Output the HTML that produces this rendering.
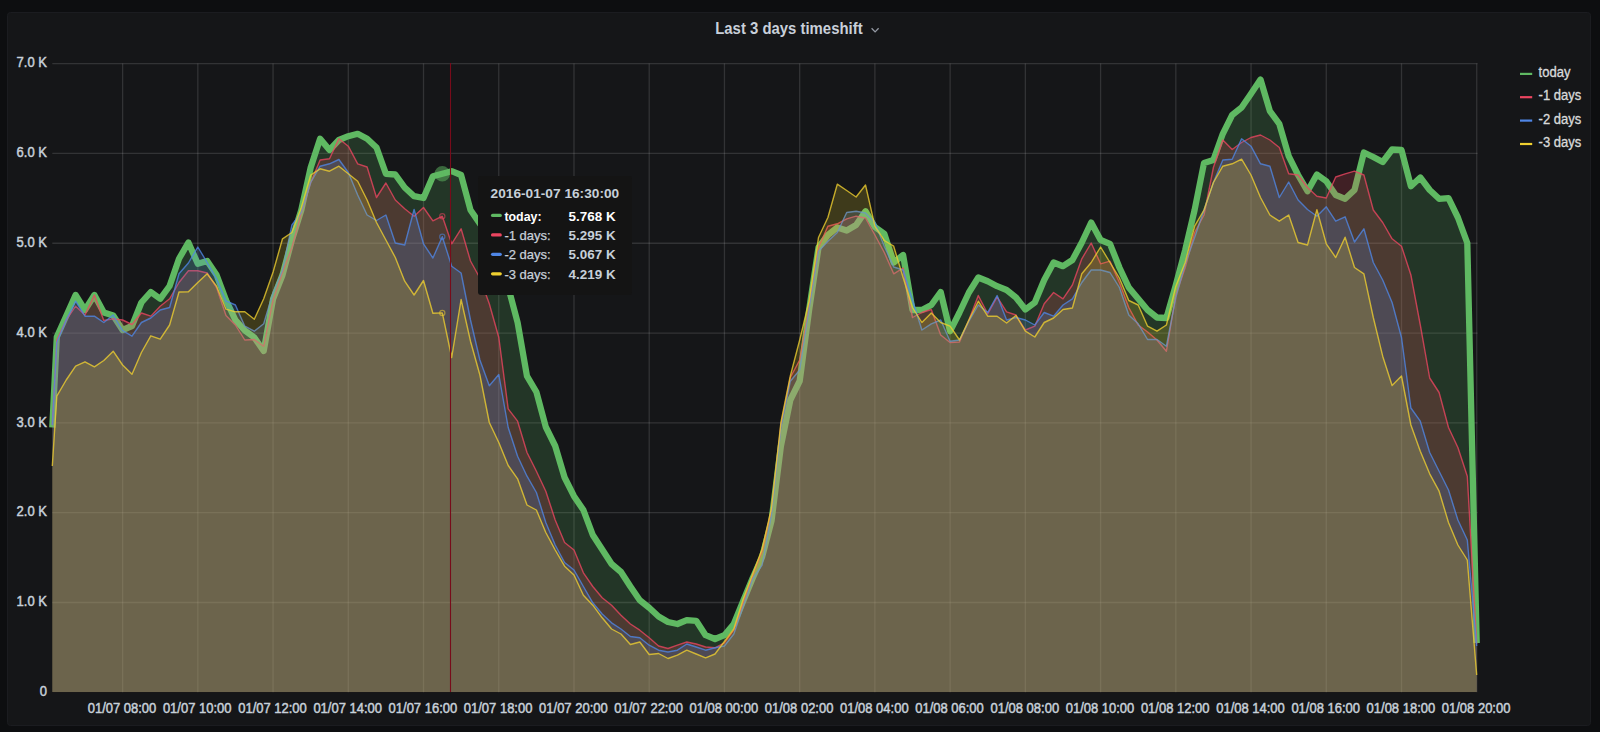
<!DOCTYPE html>
<html lang="en"><head><meta charset="utf-8"><title>Last 3 days timeshift</title>
<style>
html,body{margin:0;padding:0;background:#0d0e10;}
body{width:1600px;height:732px;overflow:hidden;position:relative;font-family:"Liberation Sans",sans-serif;}
svg{position:absolute;left:0;top:0;display:block;}
text{font-family:"Liberation Sans",sans-serif;}
.ax{font-size:13px;fill:#c7d0d9;stroke:#c7d0d9;stroke-width:0.45px;}
.lg{font-size:13.1px;fill:#d8d9da;stroke:#d8d9da;stroke-width:0.3px;}
.tt{font-size:13px;fill:#c7d0d9;}
.ttn{stroke:#c7d0d9;stroke-width:0.25px;}
.ttb{font-size:13px;fill:#ffffff;font-weight:bold;}
</style></head><body>
<svg width="1600" height="732" viewBox="0 0 1600 732">
<rect x="0" y="0" width="1600" height="732" fill="#0d0e10"/>
<rect x="7.5" y="12.5" width="1583" height="713" rx="3" ry="3" fill="#151618" stroke="#1b1c20" stroke-width="1"/>
<text transform="translate(715.2,34.1) scale(0.988,1.08)" x="0" y="0" font-size="15.1" font-weight="bold" fill="#c9d0da">Last 3 days timeshift</text>
<path d="M871.6 28.3 L875.1 31.9 L878.6 28.3" fill="none" stroke="#9499a3" stroke-width="1.3"/>
<g stroke="rgba(255,255,255,0.125)" stroke-width="1.3">
<line x1="122.60" y1="63.6" x2="122.60" y2="692.3"/>
<line x1="197.83" y1="63.6" x2="197.83" y2="692.3"/>
<line x1="273.06" y1="63.6" x2="273.06" y2="692.3"/>
<line x1="348.29" y1="63.6" x2="348.29" y2="692.3"/>
<line x1="423.52" y1="63.6" x2="423.52" y2="692.3"/>
<line x1="498.75" y1="63.6" x2="498.75" y2="692.3"/>
<line x1="573.98" y1="63.6" x2="573.98" y2="692.3"/>
<line x1="649.21" y1="63.6" x2="649.21" y2="692.3"/>
<line x1="724.44" y1="63.6" x2="724.44" y2="692.3"/>
<line x1="799.67" y1="63.6" x2="799.67" y2="692.3"/>
<line x1="874.90" y1="63.6" x2="874.90" y2="692.3"/>
<line x1="950.13" y1="63.6" x2="950.13" y2="692.3"/>
<line x1="1025.36" y1="63.6" x2="1025.36" y2="692.3"/>
<line x1="1100.59" y1="63.6" x2="1100.59" y2="692.3"/>
<line x1="1175.82" y1="63.6" x2="1175.82" y2="692.3"/>
<line x1="1251.05" y1="63.6" x2="1251.05" y2="692.3"/>
<line x1="1326.28" y1="63.6" x2="1326.28" y2="692.3"/>
<line x1="1401.51" y1="63.6" x2="1401.51" y2="692.3"/>
<line x1="1476.74" y1="63.6" x2="1476.74" y2="692.3"/>
<line x1="52.3" y1="602.49" x2="1477.6" y2="602.49"/>
<line x1="52.3" y1="512.67" x2="1477.6" y2="512.67"/>
<line x1="52.3" y1="422.86" x2="1477.6" y2="422.86"/>
<line x1="52.3" y1="333.04" x2="1477.6" y2="333.04"/>
<line x1="52.3" y1="243.23" x2="1477.6" y2="243.23"/>
<line x1="52.3" y1="153.41" x2="1477.6" y2="153.41"/>
<line x1="52.3" y1="63.60" x2="1477.6" y2="63.60"/>
</g>
<defs><clipPath id="pc"><rect x="48.8" y="59.6" width="1431.7" height="632.7"/></clipPath></defs>
<g clip-path="url(#pc)" stroke-linejoin="round" stroke-linecap="butt">
<polygon points="52.3,427.5 56.8,337.0 66.2,316.0 75.6,295.0 85.0,310.0 94.4,295.0 103.8,312.5 113.2,315.5 122.6,330.0 132.0,326.0 141.4,302.5 150.8,292.0 160.2,298.8 169.6,286.0 179.0,258.8 188.4,242.5 197.8,263.8 207.2,261.0 216.6,275.0 226.0,300.0 235.4,320.0 244.8,330.5 254.3,337.5 263.7,351.0 273.1,298.8 282.5,275.0 291.9,240.0 301.3,210.0 310.7,167.5 320.1,138.8 329.5,150.0 338.9,140.0 348.3,136.2 357.7,133.8 367.1,138.8 376.5,147.5 385.9,173.8 395.3,174.5 404.7,187.5 414.1,196.2 423.5,198.0 432.9,176.2 442.3,173.8 451.7,171.2 461.1,175.0 470.5,210.0 479.9,223.8 489.3,237.0 498.8,255.0 508.2,287.0 517.6,322.5 527.0,376.2 536.4,392.0 545.8,427.0 555.2,446.0 564.6,477.5 574.0,496.2 583.4,510.0 592.8,535.0 602.2,549.5 611.6,564.0 621.0,572.0 630.4,586.5 639.8,600.2 649.2,607.8 658.6,616.5 668.0,622.0 677.4,624.0 686.8,620.2 696.2,620.8 705.6,635.2 715.0,639.0 724.4,635.2 733.8,624.0 743.2,601.0 752.7,578.0 762.1,557.0 771.5,521.0 780.9,446.0 790.3,400.0 799.7,381.0 809.1,310.0 818.5,247.5 827.9,235.0 837.3,227.5 846.7,230.5 856.1,225.0 865.5,211.2 874.9,227.0 884.3,233.8 893.7,262.5 903.1,255.0 912.5,310.0 921.9,310.0 931.3,305.0 940.7,292.0 950.1,331.2 959.5,312.5 968.9,292.5 978.3,277.5 987.7,281.2 997.1,286.2 1006.6,290.0 1016.0,297.5 1025.4,309.5 1034.8,302.5 1044.2,280.0 1053.6,262.5 1063.0,266.2 1072.4,260.0 1081.8,242.5 1091.2,222.5 1100.6,240.0 1110.0,243.8 1119.4,267.5 1128.8,287.5 1138.2,298.8 1147.6,310.0 1157.0,317.5 1166.4,318.0 1175.8,285.0 1185.2,250.0 1194.6,210.0 1204.0,163.0 1213.4,160.0 1222.8,133.8 1232.2,115.0 1241.6,107.5 1251.0,93.8 1260.5,79.5 1269.9,111.2 1279.3,123.8 1288.7,156.2 1298.1,175.0 1307.5,191.2 1316.9,174.5 1326.3,181.2 1335.7,195.0 1345.1,198.8 1354.5,190.0 1363.9,152.5 1373.3,157.0 1382.7,162.0 1392.1,149.5 1401.5,150.0 1410.9,186.2 1420.3,177.5 1429.7,190.0 1439.1,198.8 1448.5,198.2 1457.9,217.5 1467.3,243.0 1476.7,643.0 1476.7,692.3 52.3,692.3" fill="#5fb962" fill-opacity="0.20" stroke="none"/>
<polyline points="52.3,427.5 56.8,337.0 66.2,316.0 75.6,295.0 85.0,310.0 94.4,295.0 103.8,312.5 113.2,315.5 122.6,330.0 132.0,326.0 141.4,302.5 150.8,292.0 160.2,298.8 169.6,286.0 179.0,258.8 188.4,242.5 197.8,263.8 207.2,261.0 216.6,275.0 226.0,300.0 235.4,320.0 244.8,330.5 254.3,337.5 263.7,351.0 273.1,298.8 282.5,275.0 291.9,240.0 301.3,210.0 310.7,167.5 320.1,138.8 329.5,150.0 338.9,140.0 348.3,136.2 357.7,133.8 367.1,138.8 376.5,147.5 385.9,173.8 395.3,174.5 404.7,187.5 414.1,196.2 423.5,198.0 432.9,176.2 442.3,173.8 451.7,171.2 461.1,175.0 470.5,210.0 479.9,223.8 489.3,237.0 498.8,255.0 508.2,287.0 517.6,322.5 527.0,376.2 536.4,392.0 545.8,427.0 555.2,446.0 564.6,477.5 574.0,496.2 583.4,510.0 592.8,535.0 602.2,549.5 611.6,564.0 621.0,572.0 630.4,586.5 639.8,600.2 649.2,607.8 658.6,616.5 668.0,622.0 677.4,624.0 686.8,620.2 696.2,620.8 705.6,635.2 715.0,639.0 724.4,635.2 733.8,624.0 743.2,601.0 752.7,578.0 762.1,557.0 771.5,521.0 780.9,446.0 790.3,400.0 799.7,381.0 809.1,310.0 818.5,247.5 827.9,235.0 837.3,227.5 846.7,230.5 856.1,225.0 865.5,211.2 874.9,227.0 884.3,233.8 893.7,262.5 903.1,255.0 912.5,310.0 921.9,310.0 931.3,305.0 940.7,292.0 950.1,331.2 959.5,312.5 968.9,292.5 978.3,277.5 987.7,281.2 997.1,286.2 1006.6,290.0 1016.0,297.5 1025.4,309.5 1034.8,302.5 1044.2,280.0 1053.6,262.5 1063.0,266.2 1072.4,260.0 1081.8,242.5 1091.2,222.5 1100.6,240.0 1110.0,243.8 1119.4,267.5 1128.8,287.5 1138.2,298.8 1147.6,310.0 1157.0,317.5 1166.4,318.0 1175.8,285.0 1185.2,250.0 1194.6,210.0 1204.0,163.0 1213.4,160.0 1222.8,133.8 1232.2,115.0 1241.6,107.5 1251.0,93.8 1260.5,79.5 1269.9,111.2 1279.3,123.8 1288.7,156.2 1298.1,175.0 1307.5,191.2 1316.9,174.5 1326.3,181.2 1335.7,195.0 1345.1,198.8 1354.5,190.0 1363.9,152.5 1373.3,157.0 1382.7,162.0 1392.1,149.5 1401.5,150.0 1410.9,186.2 1420.3,177.5 1429.7,190.0 1439.1,198.8 1448.5,198.2 1457.9,217.5 1467.3,243.0 1476.7,643.0" fill="none" stroke="#5fb962" stroke-width="6.3" stroke-opacity="1"/>
<polygon points="52.3,425.0 56.8,340.0 66.2,320.0 75.6,306.2 85.0,315.0 94.4,295.0 103.8,320.5 113.2,318.8 122.6,320.0 132.0,324.5 141.4,313.0 150.8,316.2 160.2,306.2 169.6,298.8 179.0,282.5 188.4,270.8 197.8,270.8 207.2,273.0 216.6,287.5 226.0,315.5 235.4,325.0 244.8,340.0 254.3,339.5 263.7,346.2 273.1,300.0 282.5,272.5 291.9,247.5 301.3,213.0 310.7,182.5 320.1,160.0 329.5,158.8 338.9,138.8 348.3,146.2 357.7,163.8 367.1,167.0 376.5,197.5 385.9,183.0 395.3,200.0 404.7,208.8 414.1,216.2 423.5,207.5 432.9,220.8 442.3,216.2 451.7,243.8 461.1,228.8 470.5,261.0 479.9,278.0 489.3,303.8 498.8,337.5 508.2,408.8 517.6,421.2 527.0,452.5 536.4,471.2 545.8,491.2 555.2,520.0 564.6,542.5 574.0,550.0 583.4,572.8 592.8,586.5 602.2,597.8 611.6,605.2 621.0,615.2 630.4,624.0 639.8,630.2 649.2,637.8 658.6,646.0 668.0,648.5 677.4,645.2 686.8,642.0 696.2,644.0 705.6,647.0 715.0,647.8 724.4,642.8 733.8,630.2 743.2,602.8 752.7,575.2 762.1,551.5 771.5,510.0 780.9,425.0 790.3,377.5 799.7,360.0 809.1,306.0 818.5,247.5 827.9,226.2 837.3,223.8 846.7,218.8 856.1,216.2 865.5,218.0 874.9,235.0 884.3,252.5 893.7,273.8 903.1,268.0 912.5,317.5 921.9,312.5 931.3,309.5 940.7,335.0 950.1,342.5 959.5,342.0 968.9,320.0 978.3,295.5 987.7,313.8 997.1,297.0 1006.6,311.8 1016.0,315.0 1025.4,330.0 1034.8,326.2 1044.2,303.8 1053.6,292.5 1063.0,298.8 1072.4,285.0 1081.8,258.8 1091.2,243.0 1100.6,263.8 1110.0,261.2 1119.4,282.5 1128.8,307.5 1138.2,325.0 1147.6,332.0 1157.0,340.0 1166.4,351.2 1175.8,295.0 1185.2,267.5 1194.6,232.5 1204.0,215.0 1213.4,167.5 1222.8,140.0 1232.2,149.5 1241.6,142.5 1251.0,137.5 1260.5,135.0 1269.9,140.0 1279.3,147.5 1288.7,173.8 1298.1,175.0 1307.5,187.5 1316.9,196.2 1326.3,198.0 1335.7,177.0 1345.1,173.8 1354.5,171.2 1363.9,175.0 1373.3,210.0 1382.7,222.5 1392.1,238.8 1401.5,246.2 1410.9,275.0 1420.3,325.0 1429.7,378.0 1439.1,392.5 1448.5,427.5 1457.9,447.5 1467.3,476.2 1476.7,644.0 1476.7,692.3 52.3,692.3" fill="#F2495C" fill-opacity="0.20" stroke="none"/>
<polyline points="52.3,425.0 56.8,340.0 66.2,320.0 75.6,306.2 85.0,315.0 94.4,295.0 103.8,320.5 113.2,318.8 122.6,320.0 132.0,324.5 141.4,313.0 150.8,316.2 160.2,306.2 169.6,298.8 179.0,282.5 188.4,270.8 197.8,270.8 207.2,273.0 216.6,287.5 226.0,315.5 235.4,325.0 244.8,340.0 254.3,339.5 263.7,346.2 273.1,300.0 282.5,272.5 291.9,247.5 301.3,213.0 310.7,182.5 320.1,160.0 329.5,158.8 338.9,138.8 348.3,146.2 357.7,163.8 367.1,167.0 376.5,197.5 385.9,183.0 395.3,200.0 404.7,208.8 414.1,216.2 423.5,207.5 432.9,220.8 442.3,216.2 451.7,243.8 461.1,228.8 470.5,261.0 479.9,278.0 489.3,303.8 498.8,337.5 508.2,408.8 517.6,421.2 527.0,452.5 536.4,471.2 545.8,491.2 555.2,520.0 564.6,542.5 574.0,550.0 583.4,572.8 592.8,586.5 602.2,597.8 611.6,605.2 621.0,615.2 630.4,624.0 639.8,630.2 649.2,637.8 658.6,646.0 668.0,648.5 677.4,645.2 686.8,642.0 696.2,644.0 705.6,647.0 715.0,647.8 724.4,642.8 733.8,630.2 743.2,602.8 752.7,575.2 762.1,551.5 771.5,510.0 780.9,425.0 790.3,377.5 799.7,360.0 809.1,306.0 818.5,247.5 827.9,226.2 837.3,223.8 846.7,218.8 856.1,216.2 865.5,218.0 874.9,235.0 884.3,252.5 893.7,273.8 903.1,268.0 912.5,317.5 921.9,312.5 931.3,309.5 940.7,335.0 950.1,342.5 959.5,342.0 968.9,320.0 978.3,295.5 987.7,313.8 997.1,297.0 1006.6,311.8 1016.0,315.0 1025.4,330.0 1034.8,326.2 1044.2,303.8 1053.6,292.5 1063.0,298.8 1072.4,285.0 1081.8,258.8 1091.2,243.0 1100.6,263.8 1110.0,261.2 1119.4,282.5 1128.8,307.5 1138.2,325.0 1147.6,332.0 1157.0,340.0 1166.4,351.2 1175.8,295.0 1185.2,267.5 1194.6,232.5 1204.0,215.0 1213.4,167.5 1222.8,140.0 1232.2,149.5 1241.6,142.5 1251.0,137.5 1260.5,135.0 1269.9,140.0 1279.3,147.5 1288.7,173.8 1298.1,175.0 1307.5,187.5 1316.9,196.2 1326.3,198.0 1335.7,177.0 1345.1,173.8 1354.5,171.2 1363.9,175.0 1373.3,210.0 1382.7,222.5 1392.1,238.8 1401.5,246.2 1410.9,275.0 1420.3,325.0 1429.7,378.0 1439.1,392.5 1448.5,427.5 1457.9,447.5 1467.3,476.2 1476.7,644.0" fill="none" stroke="#ec4560" stroke-width="1.4" stroke-opacity="0.78"/>
<polygon points="52.3,425.0 56.8,342.5 66.2,320.0 75.6,301.2 85.0,316.2 94.4,316.2 103.8,322.5 113.2,315.0 122.6,330.5 132.0,336.2 141.4,322.5 150.8,318.0 160.2,310.0 169.6,307.5 179.0,273.8 188.4,263.0 197.8,247.0 207.2,262.5 216.6,278.8 226.0,300.8 235.4,305.0 244.8,326.2 254.3,331.2 263.7,323.8 273.1,292.5 282.5,270.0 291.9,225.0 301.3,212.5 310.7,182.5 320.1,166.2 329.5,163.8 338.9,159.5 348.3,172.5 357.7,195.0 367.1,215.0 376.5,220.5 385.9,215.0 395.3,243.0 404.7,245.0 414.1,209.5 423.5,243.8 432.9,258.0 442.3,236.7 451.7,266.2 461.1,273.0 470.5,320.0 479.9,360.0 489.3,385.8 498.8,374.5 508.2,427.5 517.6,456.2 527.0,476.2 536.4,492.5 545.8,522.5 555.2,545.0 564.6,562.5 574.0,570.0 583.4,586.5 592.8,602.8 602.2,614.0 611.6,622.8 621.0,629.0 630.4,636.5 639.8,637.8 649.2,645.2 658.6,650.2 668.0,652.0 677.4,650.2 686.8,644.0 696.2,647.0 705.6,650.2 715.0,647.8 724.4,646.0 733.8,634.0 743.2,606.5 752.7,579.0 762.1,565.2 771.5,515.0 780.9,428.0 790.3,381.2 799.7,370.0 809.1,309.0 818.5,251.2 827.9,241.2 837.3,232.5 846.7,212.5 856.1,211.2 865.5,213.0 874.9,222.5 884.3,246.2 893.7,267.0 903.1,270.0 912.5,300.0 921.9,330.0 931.3,323.8 940.7,320.0 950.1,341.2 959.5,340.0 968.9,321.2 978.3,305.0 987.7,312.5 997.1,295.5 1006.6,320.0 1016.0,317.5 1025.4,320.0 1034.8,325.0 1044.2,312.5 1053.6,316.2 1063.0,305.0 1072.4,298.8 1081.8,282.5 1091.2,270.0 1100.6,270.0 1110.0,272.5 1119.4,287.5 1128.8,315.0 1138.2,323.8 1147.6,339.5 1157.0,339.5 1166.4,346.2 1175.8,297.5 1185.2,263.8 1194.6,237.5 1204.0,210.0 1213.4,182.5 1222.8,160.0 1232.2,159.2 1241.6,138.8 1251.0,146.2 1260.5,163.8 1269.9,166.2 1279.3,197.5 1288.7,182.0 1298.1,200.0 1307.5,209.5 1316.9,216.2 1326.3,206.8 1335.7,221.2 1345.1,216.8 1354.5,242.0 1363.9,228.8 1373.3,262.5 1382.7,280.0 1392.1,302.5 1401.5,337.5 1410.9,408.0 1420.3,421.2 1429.7,452.5 1439.1,471.2 1448.5,490.0 1457.9,520.0 1467.3,540.0 1476.7,646.0 1476.7,692.3 52.3,692.3" fill="#5794F2" fill-opacity="0.18" stroke="none"/>
<polyline points="52.3,425.0 56.8,342.5 66.2,320.0 75.6,301.2 85.0,316.2 94.4,316.2 103.8,322.5 113.2,315.0 122.6,330.5 132.0,336.2 141.4,322.5 150.8,318.0 160.2,310.0 169.6,307.5 179.0,273.8 188.4,263.0 197.8,247.0 207.2,262.5 216.6,278.8 226.0,300.8 235.4,305.0 244.8,326.2 254.3,331.2 263.7,323.8 273.1,292.5 282.5,270.0 291.9,225.0 301.3,212.5 310.7,182.5 320.1,166.2 329.5,163.8 338.9,159.5 348.3,172.5 357.7,195.0 367.1,215.0 376.5,220.5 385.9,215.0 395.3,243.0 404.7,245.0 414.1,209.5 423.5,243.8 432.9,258.0 442.3,236.7 451.7,266.2 461.1,273.0 470.5,320.0 479.9,360.0 489.3,385.8 498.8,374.5 508.2,427.5 517.6,456.2 527.0,476.2 536.4,492.5 545.8,522.5 555.2,545.0 564.6,562.5 574.0,570.0 583.4,586.5 592.8,602.8 602.2,614.0 611.6,622.8 621.0,629.0 630.4,636.5 639.8,637.8 649.2,645.2 658.6,650.2 668.0,652.0 677.4,650.2 686.8,644.0 696.2,647.0 705.6,650.2 715.0,647.8 724.4,646.0 733.8,634.0 743.2,606.5 752.7,579.0 762.1,565.2 771.5,515.0 780.9,428.0 790.3,381.2 799.7,370.0 809.1,309.0 818.5,251.2 827.9,241.2 837.3,232.5 846.7,212.5 856.1,211.2 865.5,213.0 874.9,222.5 884.3,246.2 893.7,267.0 903.1,270.0 912.5,300.0 921.9,330.0 931.3,323.8 940.7,320.0 950.1,341.2 959.5,340.0 968.9,321.2 978.3,305.0 987.7,312.5 997.1,295.5 1006.6,320.0 1016.0,317.5 1025.4,320.0 1034.8,325.0 1044.2,312.5 1053.6,316.2 1063.0,305.0 1072.4,298.8 1081.8,282.5 1091.2,270.0 1100.6,270.0 1110.0,272.5 1119.4,287.5 1128.8,315.0 1138.2,323.8 1147.6,339.5 1157.0,339.5 1166.4,346.2 1175.8,297.5 1185.2,263.8 1194.6,237.5 1204.0,210.0 1213.4,182.5 1222.8,160.0 1232.2,159.2 1241.6,138.8 1251.0,146.2 1260.5,163.8 1269.9,166.2 1279.3,197.5 1288.7,182.0 1298.1,200.0 1307.5,209.5 1316.9,216.2 1326.3,206.8 1335.7,221.2 1345.1,216.8 1354.5,242.0 1363.9,228.8 1373.3,262.5 1382.7,280.0 1392.1,302.5 1401.5,337.5 1410.9,408.0 1420.3,421.2 1429.7,452.5 1439.1,471.2 1448.5,490.0 1457.9,520.0 1467.3,540.0 1476.7,646.0" fill="none" stroke="#4f86e6" stroke-width="1.4" stroke-opacity="0.78"/>
<polygon points="52.3,466.0 56.8,396.2 66.2,380.0 75.6,366.2 85.0,361.8 94.4,366.8 103.8,360.5 113.2,351.2 122.6,365.0 132.0,374.2 141.4,352.5 150.8,335.8 160.2,339.2 169.6,325.0 179.0,292.0 188.4,291.8 197.8,282.5 207.2,273.8 216.6,286.2 226.0,309.2 235.4,311.8 244.8,311.8 254.3,319.2 263.7,298.8 273.1,272.0 282.5,238.8 291.9,232.5 301.3,207.5 310.7,175.0 320.1,168.8 329.5,171.2 338.9,166.2 348.3,173.8 357.7,181.2 367.1,200.0 376.5,222.5 385.9,240.0 395.3,257.5 404.7,281.2 414.1,295.0 423.5,280.5 432.9,313.2 442.3,312.9 451.7,357.5 461.1,299.5 470.5,341.2 479.9,375.0 489.3,422.5 498.8,442.5 508.2,465.5 517.6,478.8 527.0,505.0 536.4,510.0 545.8,532.5 555.2,550.0 564.6,566.2 574.0,575.0 583.4,595.2 592.8,605.2 602.2,617.8 611.6,629.0 621.0,634.0 630.4,644.5 639.8,642.0 649.2,654.5 658.6,653.5 668.0,658.5 677.4,655.2 686.8,650.2 696.2,654.0 705.6,657.8 715.0,654.0 724.4,641.5 733.8,629.0 743.2,599.0 752.7,574.0 762.1,549.0 771.5,508.0 780.9,422.5 790.3,376.0 799.7,340.0 809.1,301.0 818.5,237.5 827.9,217.5 837.3,184.2 846.7,190.5 856.1,197.0 865.5,185.0 874.9,226.2 884.3,240.5 893.7,246.2 903.1,277.5 912.5,307.5 921.9,322.5 931.3,313.0 940.7,322.5 950.1,326.2 959.5,340.0 968.9,320.0 978.3,301.2 987.7,316.2 997.1,316.2 1006.6,323.0 1016.0,315.5 1025.4,331.2 1034.8,337.0 1044.2,322.5 1053.6,318.0 1063.0,309.5 1072.4,308.0 1081.8,273.8 1091.2,262.5 1100.6,247.0 1110.0,262.5 1119.4,278.0 1128.8,300.5 1138.2,305.0 1147.6,326.2 1157.0,331.2 1166.4,325.0 1175.8,286.2 1185.2,262.5 1194.6,226.2 1204.0,210.0 1213.4,182.5 1222.8,166.2 1232.2,163.8 1241.6,159.2 1251.0,175.0 1260.5,197.5 1269.9,215.0 1279.3,221.2 1288.7,215.0 1298.1,242.5 1307.5,245.0 1316.9,209.8 1326.3,243.8 1335.7,257.5 1345.1,237.2 1354.5,267.5 1363.9,273.8 1373.3,317.5 1382.7,356.2 1392.1,385.5 1401.5,376.0 1410.9,425.0 1420.3,451.2 1429.7,473.8 1439.1,491.2 1448.5,522.5 1457.9,545.0 1467.3,560.0 1476.7,675.0 1476.7,692.3 52.3,692.3" fill="#FADE2A" fill-opacity="0.18" stroke="none"/>
<polyline points="52.3,466.0 56.8,396.2 66.2,380.0 75.6,366.2 85.0,361.8 94.4,366.8 103.8,360.5 113.2,351.2 122.6,365.0 132.0,374.2 141.4,352.5 150.8,335.8 160.2,339.2 169.6,325.0 179.0,292.0 188.4,291.8 197.8,282.5 207.2,273.8 216.6,286.2 226.0,309.2 235.4,311.8 244.8,311.8 254.3,319.2 263.7,298.8 273.1,272.0 282.5,238.8 291.9,232.5 301.3,207.5 310.7,175.0 320.1,168.8 329.5,171.2 338.9,166.2 348.3,173.8 357.7,181.2 367.1,200.0 376.5,222.5 385.9,240.0 395.3,257.5 404.7,281.2 414.1,295.0 423.5,280.5 432.9,313.2 442.3,312.9 451.7,357.5 461.1,299.5 470.5,341.2 479.9,375.0 489.3,422.5 498.8,442.5 508.2,465.5 517.6,478.8 527.0,505.0 536.4,510.0 545.8,532.5 555.2,550.0 564.6,566.2 574.0,575.0 583.4,595.2 592.8,605.2 602.2,617.8 611.6,629.0 621.0,634.0 630.4,644.5 639.8,642.0 649.2,654.5 658.6,653.5 668.0,658.5 677.4,655.2 686.8,650.2 696.2,654.0 705.6,657.8 715.0,654.0 724.4,641.5 733.8,629.0 743.2,599.0 752.7,574.0 762.1,549.0 771.5,508.0 780.9,422.5 790.3,376.0 799.7,340.0 809.1,301.0 818.5,237.5 827.9,217.5 837.3,184.2 846.7,190.5 856.1,197.0 865.5,185.0 874.9,226.2 884.3,240.5 893.7,246.2 903.1,277.5 912.5,307.5 921.9,322.5 931.3,313.0 940.7,322.5 950.1,326.2 959.5,340.0 968.9,320.0 978.3,301.2 987.7,316.2 997.1,316.2 1006.6,323.0 1016.0,315.5 1025.4,331.2 1034.8,337.0 1044.2,322.5 1053.6,318.0 1063.0,309.5 1072.4,308.0 1081.8,273.8 1091.2,262.5 1100.6,247.0 1110.0,262.5 1119.4,278.0 1128.8,300.5 1138.2,305.0 1147.6,326.2 1157.0,331.2 1166.4,325.0 1175.8,286.2 1185.2,262.5 1194.6,226.2 1204.0,210.0 1213.4,182.5 1222.8,166.2 1232.2,163.8 1241.6,159.2 1251.0,175.0 1260.5,197.5 1269.9,215.0 1279.3,221.2 1288.7,215.0 1298.1,242.5 1307.5,245.0 1316.9,209.8 1326.3,243.8 1335.7,257.5 1345.1,237.2 1354.5,267.5 1363.9,273.8 1373.3,317.5 1382.7,356.2 1392.1,385.5 1401.5,376.0 1410.9,425.0 1420.3,451.2 1429.7,473.8 1439.1,491.2 1448.5,522.5 1457.9,545.0 1467.3,560.0 1476.7,675.0" fill="none" stroke="#efd030" stroke-width="1.4" stroke-opacity="0.78"/>
</g>
<circle cx="442.3" cy="173.7" r="4.6" fill="none" stroke="#5fb962" stroke-opacity="0.5" stroke-width="6.2"/>
<circle cx="442.3" cy="216.2" r="2.6" fill="none" stroke="#ec4560" stroke-opacity="0.55" stroke-width="1.2"/>
<circle cx="442.3" cy="236.7" r="2.6" fill="none" stroke="#4f86e6" stroke-opacity="0.55" stroke-width="1.2"/>
<circle cx="442.3" cy="312.9" r="2.6" fill="none" stroke="#efd030" stroke-opacity="0.55" stroke-width="1.2"/>
<line x1="450.5" y1="63" x2="450.5" y2="692" stroke="#780b1a" stroke-width="1.1"/>
<text class="ax" transform="translate(46.9,695.9) scale(1,1.07)" text-anchor="end">0</text>
<text class="ax" transform="translate(46.9,606.1) scale(1,1.07)" text-anchor="end">1.0 K</text>
<text class="ax" transform="translate(46.9,516.3) scale(1,1.07)" text-anchor="end">2.0 K</text>
<text class="ax" transform="translate(46.9,426.5) scale(1,1.07)" text-anchor="end">3.0 K</text>
<text class="ax" transform="translate(46.9,336.6) scale(1,1.07)" text-anchor="end">4.0 K</text>
<text class="ax" transform="translate(46.9,246.8) scale(1,1.07)" text-anchor="end">5.0 K</text>
<text class="ax" transform="translate(46.9,157.0) scale(1,1.07)" text-anchor="end">6.0 K</text>
<text class="ax" transform="translate(46.9,67.2) scale(1,1.07)" text-anchor="end">7.0 K</text>
<text class="ax" transform="translate(122.0,712.9) scale(1,1.07)" text-anchor="middle">01/07 08:00</text>
<text class="ax" transform="translate(197.2,712.9) scale(1,1.07)" text-anchor="middle">01/07 10:00</text>
<text class="ax" transform="translate(272.5,712.9) scale(1,1.07)" text-anchor="middle">01/07 12:00</text>
<text class="ax" transform="translate(347.7,712.9) scale(1,1.07)" text-anchor="middle">01/07 14:00</text>
<text class="ax" transform="translate(422.9,712.9) scale(1,1.07)" text-anchor="middle">01/07 16:00</text>
<text class="ax" transform="translate(498.1,712.9) scale(1,1.07)" text-anchor="middle">01/07 18:00</text>
<text class="ax" transform="translate(573.4,712.9) scale(1,1.07)" text-anchor="middle">01/07 20:00</text>
<text class="ax" transform="translate(648.6,712.9) scale(1,1.07)" text-anchor="middle">01/07 22:00</text>
<text class="ax" transform="translate(723.8,712.9) scale(1,1.07)" text-anchor="middle">01/08 00:00</text>
<text class="ax" transform="translate(799.1,712.9) scale(1,1.07)" text-anchor="middle">01/08 02:00</text>
<text class="ax" transform="translate(874.3,712.9) scale(1,1.07)" text-anchor="middle">01/08 04:00</text>
<text class="ax" transform="translate(949.5,712.9) scale(1,1.07)" text-anchor="middle">01/08 06:00</text>
<text class="ax" transform="translate(1024.8,712.9) scale(1,1.07)" text-anchor="middle">01/08 08:00</text>
<text class="ax" transform="translate(1100.0,712.9) scale(1,1.07)" text-anchor="middle">01/08 10:00</text>
<text class="ax" transform="translate(1175.2,712.9) scale(1,1.07)" text-anchor="middle">01/08 12:00</text>
<text class="ax" transform="translate(1250.5,712.9) scale(1,1.07)" text-anchor="middle">01/08 14:00</text>
<text class="ax" transform="translate(1325.7,712.9) scale(1,1.07)" text-anchor="middle">01/08 16:00</text>
<text class="ax" transform="translate(1400.9,712.9) scale(1,1.07)" text-anchor="middle">01/08 18:00</text>
<text class="ax" transform="translate(1476.1,712.9) scale(1,1.07)" text-anchor="middle">01/08 20:00</text>
<line x1="1520" y1="73.9" x2="1532.2" y2="73.9" stroke="#5fb962" stroke-width="2.2"/>
<text class="lg" transform="translate(1538.6,76.9) scale(0.995,1.09)" x="0" y="0">today</text>
<line x1="1520" y1="97.2" x2="1532.2" y2="97.2" stroke="#ec4560" stroke-width="2.2"/>
<text class="lg" transform="translate(1538.6,100.2) scale(0.995,1.09)" x="0" y="0">-1 days</text>
<line x1="1520" y1="120.6" x2="1532.2" y2="120.6" stroke="#4f86e6" stroke-width="2.2"/>
<text class="lg" transform="translate(1538.6,123.6) scale(0.995,1.09)" x="0" y="0">-2 days</text>
<line x1="1520" y1="144.0" x2="1532.2" y2="144.0" stroke="#efd030" stroke-width="2.2"/>
<text class="lg" transform="translate(1538.6,147.0) scale(0.995,1.09)" x="0" y="0">-3 days</text>
<rect x="478" y="176" width="154" height="119" rx="3" ry="3" fill="#141414"/>
<text x="490.6" y="197.8" font-size="13.5" font-weight="bold" fill="#c7d0d9" textLength="128.6" lengthAdjust="spacingAndGlyphs">2016-01-07 16:30:00</text>
<line x1="492.6" y1="215.4" x2="500.2" y2="215.4" stroke="#5fb962" stroke-width="3.3" stroke-linecap="round"/>
<text class="ttb" x="504.4" y="220.5" textLength="37.2" lengthAdjust="spacingAndGlyphs">today:</text>
<text class="ttb" x="568.6" y="220.5" font-weight="bold" textLength="47" lengthAdjust="spacingAndGlyphs">5.768 K</text>
<line x1="492.6" y1="234.9" x2="500.2" y2="234.9" stroke="#ec4560" stroke-width="3.3" stroke-linecap="round"/>
<text class="tt ttn" x="504.4" y="240.0">-1 days:</text>
<text class="tt" x="568.6" y="240.0" font-weight="bold" textLength="47" lengthAdjust="spacingAndGlyphs">5.295 K</text>
<line x1="492.6" y1="254.3" x2="500.2" y2="254.3" stroke="#4f86e6" stroke-width="3.3" stroke-linecap="round"/>
<text class="tt ttn" x="504.4" y="259.4">-2 days:</text>
<text class="tt" x="568.6" y="259.4" font-weight="bold" textLength="47" lengthAdjust="spacingAndGlyphs">5.067 K</text>
<line x1="492.6" y1="273.8" x2="500.2" y2="273.8" stroke="#efd030" stroke-width="3.3" stroke-linecap="round"/>
<text class="tt ttn" x="504.4" y="278.9">-3 days:</text>
<text class="tt" x="568.6" y="278.9" font-weight="bold" textLength="47" lengthAdjust="spacingAndGlyphs">4.219 K</text>
</svg>
</body></html>
